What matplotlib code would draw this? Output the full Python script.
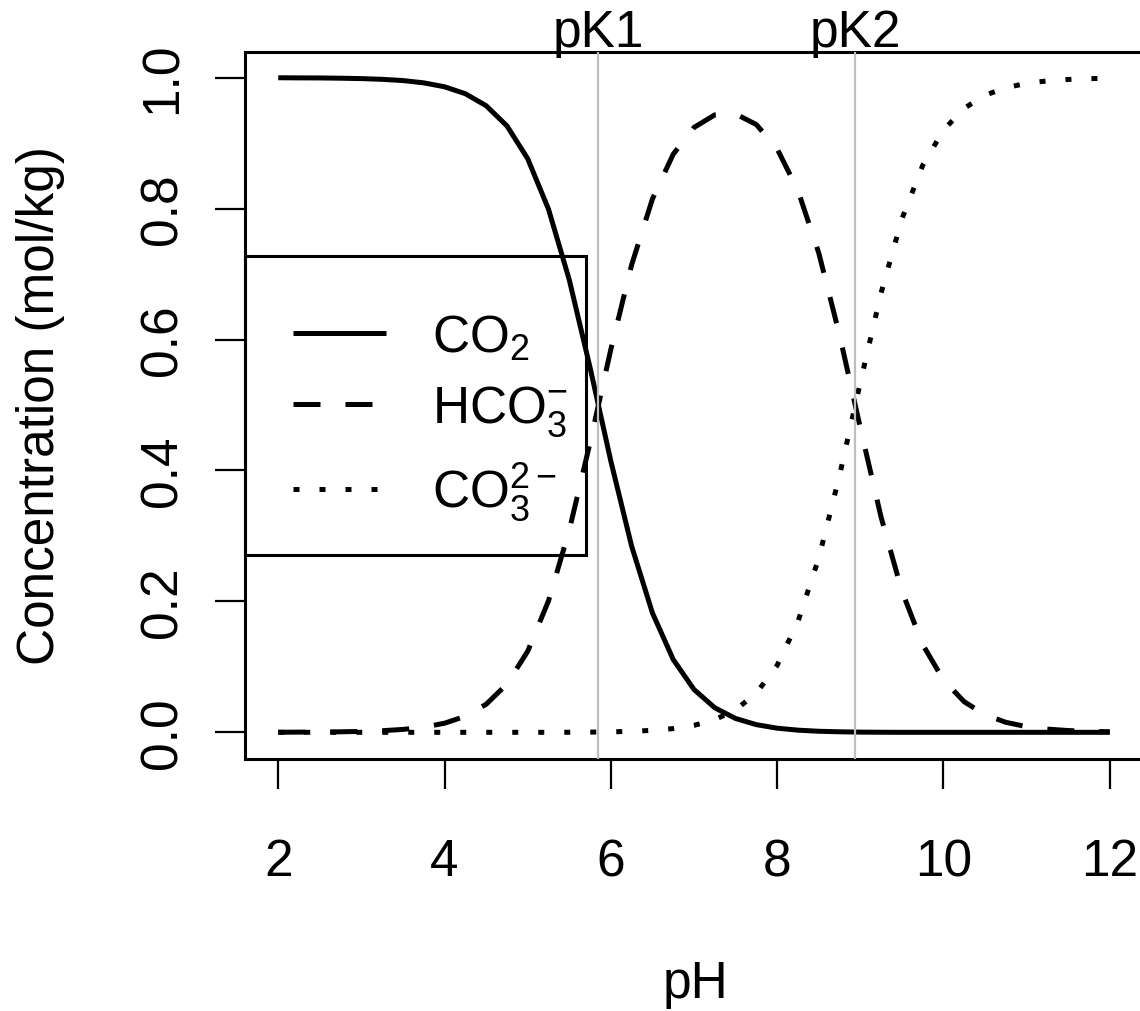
import matplotlib
matplotlib.use('Agg')
import matplotlib.pyplot as plt
from matplotlib.lines import Line2D
from matplotlib.patches import Rectangle

plt.rcParams['font.family'] = ['Liberation Sans', 'DejaVu Sans']
plt.rcParams['mathtext.fontset'] = 'custom'
plt.rcParams['mathtext.rm'] = 'Liberation Sans'
plt.rcParams['mathtext.it'] = 'Liberation Sans:italic'
plt.rcParams['mathtext.default'] = 'regular'

# carbonate speciation (fractions, every 0.25 pH)
ph = [2.0, 2.25, 2.5, 2.75, 3.0, 3.25, 3.5, 3.75, 4.0, 4.25, 4.5, 4.75,
      5.0, 5.25, 5.5, 5.75, 6.0, 6.25, 6.5, 6.75, 7.0, 7.25, 7.5, 7.75,
      8.0, 8.25, 8.5, 8.75, 9.0, 9.25, 9.5, 9.75, 10.0, 10.25, 10.5, 10.75,
      11.0, 11.25, 11.5, 11.75, 12.0]
co2 = [0.9999, 0.9997, 0.9996, 0.9992, 0.9986, 0.9975, 0.9956, 0.9921,
       0.9861, 0.9755, 0.9572, 0.9264, 0.8762, 0.7992, 0.6912, 0.5572,
       0.4142, 0.2843, 0.1824, 0.1112, 0.0654, 0.0375, 0.0211, 0.0117,
       0.0063, 0.0033, 0.0016, 0.0008, 0.0003, 0.0001, 0.0, 0.0, 0.0,
       0.0, 0.0, 0.0, 0.0, 0.0, 0.0, 0.0, 0.0]
hco3 = [0.0001, 0.0003, 0.0004, 0.0008, 0.0014, 0.0025, 0.0044, 0.0079,
        0.0139, 0.0245, 0.0428, 0.0736, 0.1238, 0.2008, 0.3087, 0.4425,
        0.5851, 0.7142, 0.8147, 0.8831, 0.9240, 0.9432, 0.9446, 0.9284,
        0.8913, 0.8277, 0.7324, 0.6072, 0.4654, 0.3287, 0.2159, 0.1341,
        0.0801, 0.0467, 0.0268, 0.0153, 0.0086, 0.0049, 0.0027, 0.0015,
        0.0009]
co3 = [0.0, 0.0, 0.0, 0.0, 0.0, 0.0, 0.0, 0.0, 0.0, 0.0, 0.0, 0.0, 0.0,
       0.0, 0.0001, 0.0003, 0.0007, 0.0015, 0.0030, 0.0057, 0.0106, 0.0193,
       0.0343, 0.0599, 0.1023, 0.1690, 0.2659, 0.3921, 0.5343, 0.6712,
       0.7840, 0.8659, 0.9199, 0.9533, 0.9732, 0.9847, 0.9914, 0.9951,
       0.9973, 0.9985, 0.9991]
pk1 = 5.85
pk2 = 8.94

x_ticks = [2, 4, 6, 8, 10, 12]
y_ticks = [0.0, 0.2, 0.4, 0.6, 0.8, 1.0]
y_ticklabels = ['0.0', '0.2', '0.4', '0.6', '0.8', '1.0']
legend_labels = ['CO$_2$', 'HCO$_3^{-}$', 'CO$_3^{2-}$']

W, H = 1140, 1012
fig = plt.figure(figsize=(W / 100, H / 100), dpi=100)
# plot box in pixels: left 245, right 1143 (off canvas), top 52.5, bottom 759.5
ax = fig.add_axes([245 / W, 1 - 759.5 / H, (1143 - 245) / W, (759.5 - 52.5) / H])

lw = 3.6
dash = (5.4, 5.0)
dot = (1.2, 4.0)

ax.plot(ph, co2, color='black', lw=lw, solid_capstyle='butt')
ax.plot(ph, hco3, color='black', lw=lw, linestyle=(0, dash), dash_capstyle='butt')
ax.plot(ph, co3, color='black', lw=lw, linestyle=(0, dot), dash_capstyle='butt')

ax.axvline(pk1, color='#bebebe', lw=1.6, zorder=5)
ax.axvline(pk2, color='#bebebe', lw=1.6, zorder=5)

ax.set_xlim(1.6, 12.4)
ax.set_ylim(-0.04, 1.04)

for s in ax.spines.values():
    s.set_linewidth(2.2)

fs = 37
ax.set_xticks(x_ticks)
ax.set_xticklabels([str(t) for t in x_ticks], fontsize=fs)
ax.set_yticks(y_ticks)
ax.set_yticklabels(y_ticklabels, fontsize=fs, rotation=90, va='center')
ax.tick_params(axis='both', direction='out', length=21.6, width=1.6, color='black')
ax.tick_params(axis='x', pad=35)
ax.tick_params(axis='y', pad=20)

trans = ax.get_xaxis_transform()
ax.text(pk1, 1.008, 'pK1', transform=trans, ha='center', va='baseline', fontsize=fs)
ax.text(pk2, 1.008, 'pK2', transform=trans, ha='center', va='baseline', fontsize=fs)

fig.text(695 / W, 1 - 985 / H, 'pH', ha='center', va='center', fontsize=fs)
fig.text(41 / W, 1 - 406 / H, 'Concentration (mol/kg)', ha='center', va='center',
         rotation=90, fontsize=fs)

# legend entries without frame, frame drawn as its own box (R style)
handles = [
    Line2D([], [], color='black', lw=lw, solid_capstyle='butt'),
    Line2D([], [], color='black', lw=lw, linestyle=(0, dash), dash_capstyle='butt'),
    Line2D([], [], color='black', lw=lw, linestyle=(0, dot), dash_capstyle='butt'),
]
ax.legend(handles, legend_labels, loc='center left',
          bbox_to_anchor=((293 - 245) / 898, (759.5 - 419) / 707),
          borderaxespad=0, borderpad=0, fontsize=fs, frameon=False,
          handlelength=1.8, handletextpad=0.9, labelspacing=0.42)
ax.add_patch(Rectangle((0, (759.5 - 556) / 707), (586 - 245) / 898, (556 - 257) / 707,
                       transform=ax.transAxes, fill=False, lw=2.2, ec='black',
                       clip_on=False, zorder=6))

fig.savefig('out.png', dpi=100)
